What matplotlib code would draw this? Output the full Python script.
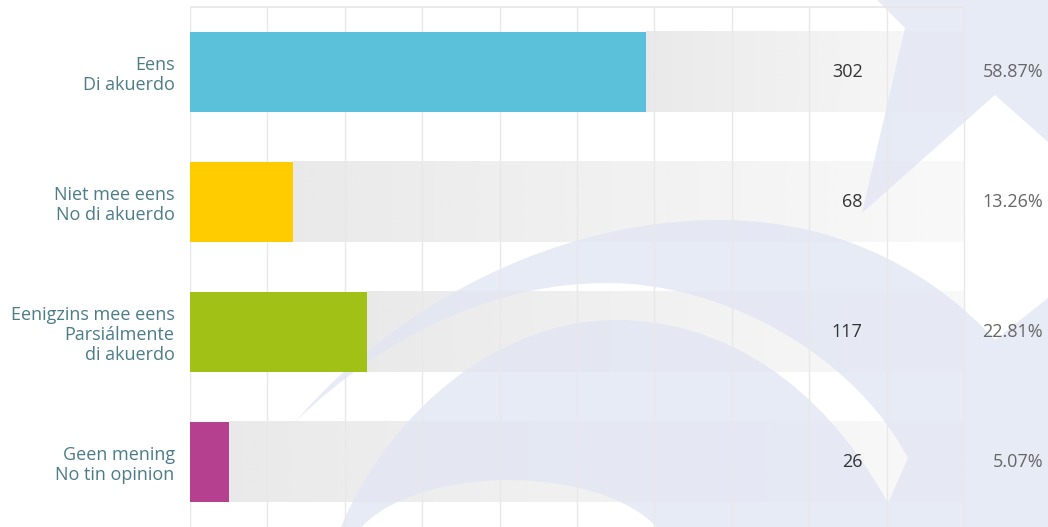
import numpy as np
import matplotlib
matplotlib.use("Agg")
from matplotlib import pyplot as plt
from matplotlib.path import Path
from matplotlib.patches import PathPatch, Polygon
from matplotlib.transforms import Affine2D

plt.rcParams['font.family'] = ['Open Sans', 'DejaVu Sans']

# data
labels = ["Eens\nDi akuerdo",
          "Niet mee eens\nNo di akuerdo",
          "Eenigzins mee eens\nParsiálmente\ndi akuerdo",
          "Geen mening\nNo tin opinion"]
counts = [302, 68, 117, 26]
percents = [58.87, 13.26, 22.81, 5.07]
colors = ["#5bc0d9", "#ffcc00", "#a2c117", "#b5408f"]

W, H = 1048, 527
fig = plt.figure(figsize=(W/100, H/100), dpi=100)
fig.patch.set_facecolor("white")

# main chart
x0 = 190
px_per = 7.74
ax = fig.add_axes([x0/W, 0, (W - x0)/W, (H - 7)/H])
ax.set_xlim(0, (W - x0)/px_per)
ax.set_ylim(3.5, -0.5)

for gx in range(0, 101, 10):
    ax.vlines(gx, -0.5, 3.5, color="#e8e8e8", lw=1, zorder=1.6)
ax.hlines(-0.5, 0, 100, color="#e6e6e6", lw=1.2, zorder=1.6, clip_on=False)

h = 0.62
ypos = np.arange(len(labels))
grad = np.zeros((1, 200, 4))
grad[..., :3] = 0.80
grad[0, :, 3] = np.linspace(0.42, 0.12, 200)
for i, p in enumerate(percents):
    ax.imshow(grad, extent=(p, 100, i + h/2, i - h/2), aspect="auto",
              interpolation="bilinear", zorder=1)
ax.barh(ypos, percents, height=h, color=colors, zorder=2)

# watermark logo, in figure pixel coords (y down)
px = Affine2D().scale(1/100, -1/100).translate(0, H/100) + fig.dpi_scale_trans
lav = "#e2e6f4"
ax.add_patch(Polygon([(877, 0), (905, 28), (862, 213), (995, 95),
                      (1048, 142), (1048, 0)], closed=True, fc=lav, ec="none",
                     alpha=0.8, transform=px, clip_on=False, zorder=1.5))

C4, L = Path.CURVE4, Path.LINETO
outer = [(295, 422), (400, 300), (560, 220), (719, 220),
         (850, 220), (940, 280), (995, 340),
         (1048, 298), (1048, 527), (341, 527), (295, 422)]
outer_c = [Path.MOVETO, C4, C4, C4, C4, C4, C4, L, L, L, Path.CLOSEPOLY]
# white band (reverse orientation -> hole)
band = [(295, 422), (341, 527), (390, 410), (500, 320), (616, 320),
        (720, 320), (820, 380), (888, 503),
        (908, 458), (850, 350), (720, 283), (607, 283),
        (500, 283), (390, 330), (295, 422)]
band_c = [Path.MOVETO, L, C4, C4, C4, C4, C4, C4,
          L, C4, C4, C4, C4, C4, Path.CLOSEPOLY]
# white dome at the bottom (hole)
t = np.linspace(2*np.pi, 0, 60)
dome = list(zip(509 + 162*np.cos(t), 560 + 80*np.sin(t)))
dome_c = [Path.MOVETO] + [L]*(len(dome) - 2) + [Path.CLOSEPOLY]
swoosh = Path(outer + band + dome, outer_c + band_c + dome_c)
ax.add_patch(PathPatch(swoosh, fc=lav, ec="none", alpha=0.8, transform=px,
                       clip_on=False, zorder=1.5))

for i, (c, p) in enumerate(zip(counts, percents)):
    ax.text(86.9, i, str(c), ha="right", va="center", fontsize=13,
            color="#333333", zorder=3)
    ax.text(110.2, i, f"{p:.2f}%", ha="right", va="center", fontsize=13,
            color="#666666", zorder=3)

ax.set_yticks(ypos)
ax.set_yticklabels(labels, fontsize=13, color="#4b7c88")
for lbl in ax.get_yticklabels():
    lbl.set_linespacing(1.12)
ax.tick_params(axis="y", length=0, pad=11)
ax.set_xticks([])
for s in ax.spines.values():
    s.set_visible(False)

fig.savefig("out.png", dpi=100)
